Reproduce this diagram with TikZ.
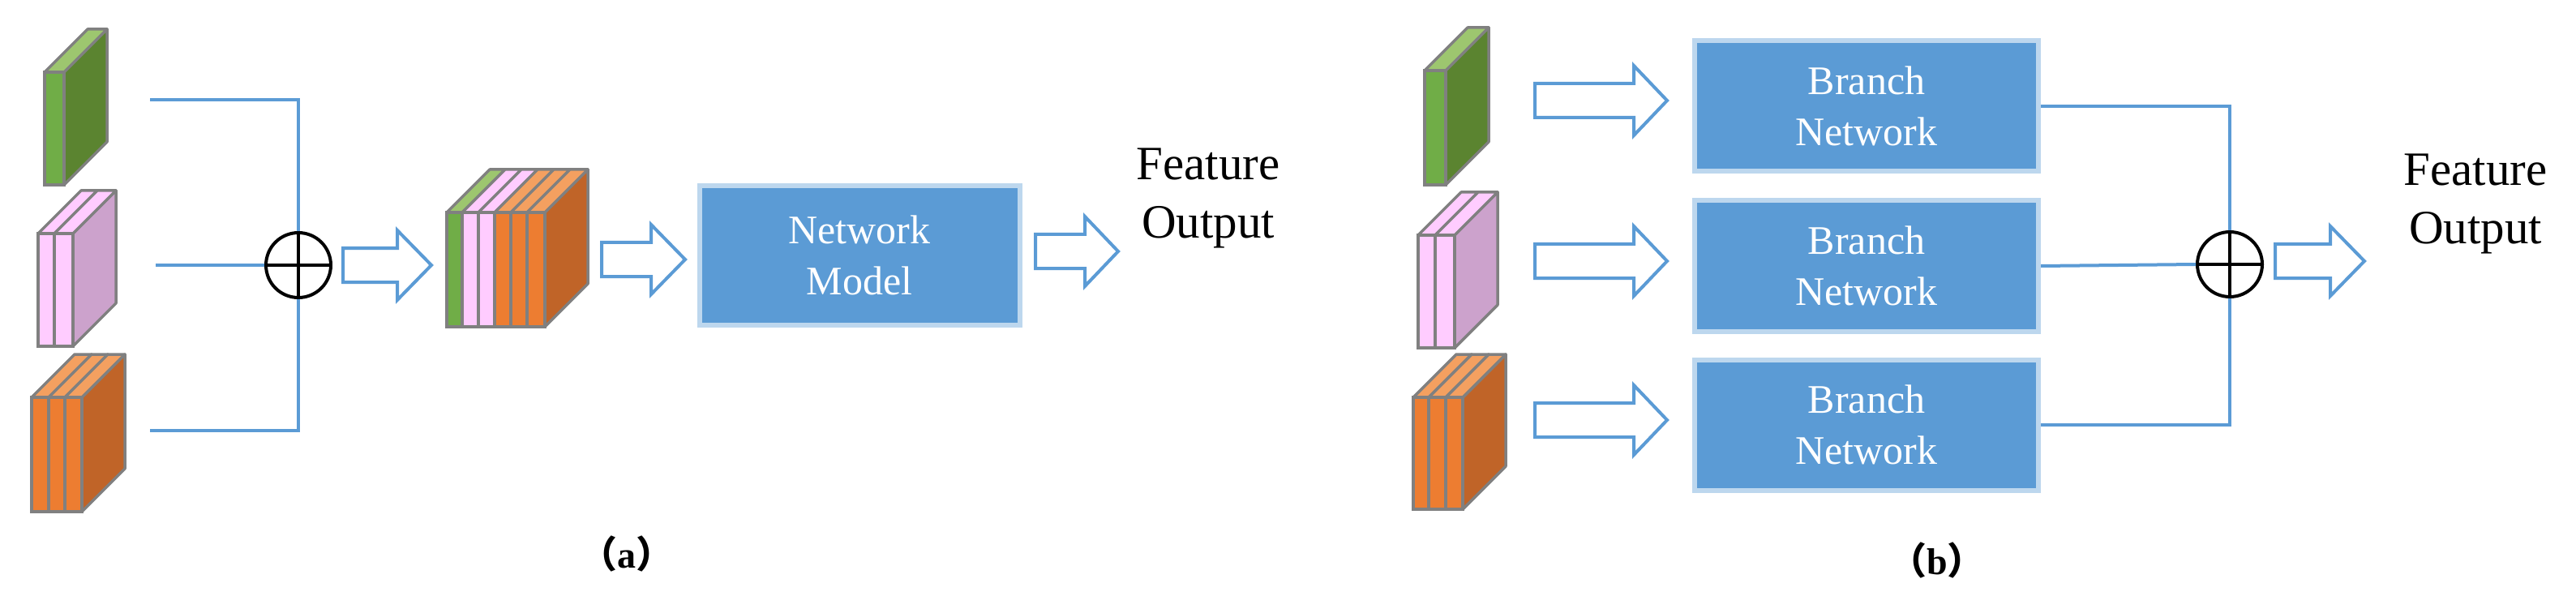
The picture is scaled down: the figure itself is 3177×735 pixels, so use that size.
\documentclass[tikz,border=0pt]{standalone}
\usepackage{fontspec}
\setmainfont{Liberation Serif}
\newfontfamily\cjkf{Noto Sans CJK SC}
\begin{document}
\definecolor{lblue}{HTML}{5B9BD5}
\definecolor{bbord}{HTML}{BDD7EE}
\definecolor{gfr}{HTML}{70AD47}\definecolor{gsd}{HTML}{5B8430}\definecolor{gtp}{HTML}{9DC66F}
\definecolor{pfr}{HTML}{FFCCFF}\definecolor{psd}{HTML}{CCA2CC}\definecolor{ptp}{HTML}{FFCCFF}
\definecolor{ofr}{HTML}{ED7D31}\definecolor{osd}{HTML}{C06428}\definecolor{otp}{HTML}{F4A060}
\definecolor{sgray}{HTML}{808080}
\newcommand\mystrip[6]{% xl xr ytop ybot front top
  \filldraw[fill=#6,draw=sgray,line width=3.5pt,line join=round] (#1,#3)--++(53,-53)--(#2+53,#3-53)--(#2,#3)--cycle;
  \filldraw[fill=#5,draw=sgray,line width=3.5pt] (#1,#3) rectangle (#2,#4);}
\newcommand\myside[4]{% xr ytop ybot color
  \filldraw[fill=#4,draw=sgray,line width=3.5pt,line join=round] (#1,#2)--++(53,-53)--(#1+53,#3-53)--(#1,#3)--cycle;}
\newcommand\myarrow[5]{% name x0 x1 xh yc  (body half 21, head half 43)
  \draw[lblue,line width=4pt,line join=miter,fill=white] (#2,#5-21)--(#4,#5-21)--(#4,#5-43)--(#3,#5)--(#4,#5+43)--(#4,#5+21)--(#2,#5+21)--cycle;
  \coordinate (#1) at (#3,#5);}
\begin{tikzpicture}[x=1pt,y=-1pt,
  box/.style={fill=lblue,draw=bbord,line width=6pt,text=white,font=\fontsize{50}{63}\selectfont,align=center,inner sep=0},
  osum/.style={circle,draw=black,line width=4pt,minimum size=80pt,inner sep=0},
  link/.style={lblue,line width=4pt},
  lab/.style={font=\fontsize{59}{72}\selectfont,align=center,inner sep=0}]
\useasboundingbox[fill=white] (0,0) rectangle (3177,735);
% ---------- (a) ----------
\myside{79}{89}{228}{gsd}\mystrip{55}{79}{89}{228}{gfr}{gtp}
\myside{90}{288}{427}{psd}\mystrip{47}{67}{288}{427}{pfr}{ptp}\mystrip{67}{90}{288}{427}{pfr}{ptp}
\myside{101}{490}{631}{osd}\mystrip{39}{60}{490}{631}{ofr}{otp}\mystrip{60}{80}{490}{631}{ofr}{otp}\mystrip{80}{101}{490}{631}{ofr}{otp}
\node[osum] (sa) at (368,327) {};
\draw[line width=4pt] (sa.north)--(sa.south) (sa.west)--(sa.east);
\coordinate (ta) at (185,123); \coordinate (ma) at (192,327); \coordinate (ba) at (185,531);
\draw[link] (ta) -| (sa.north);
\draw[link] (ma) -- (sa.west);
\draw[link] (ba) -| (sa.south);
\myarrow{a1}{423}{532}{490}{327}
\myside{672}{262}{403}{osd}
\mystrip{551}{570}{262}{403}{gfr}{gtp}
\mystrip{570}{590}{262}{403}{pfr}{ptp}\mystrip{590}{610}{262}{403}{pfr}{ptp}
\mystrip{610}{630}{262}{403}{ofr}{otp}\mystrip{630}{650}{262}{403}{ofr}{otp}\mystrip{650}{672}{262}{403}{ofr}{otp}
\myarrow{a2}{742}{845}{803}{320}
\node[box,minimum width=395pt,minimum height=171pt] (nm) at (1060,315) {Network\\Model};
\myarrow{a3}{1277}{1379}{1338}{310}
\node[lab,anchor=base] (fa) at (1490,294) {Feature\\Output};
\node[font=\fontsize{46}{50}\selectfont\bfseries,anchor=base] (la) at (773,700) {{\cjkf （}a{\cjkf ）}};
% ---------- (b) ----------
\myside{1783}{87}{228}{gsd}\mystrip{1757}{1783}{87}{228}{gfr}{gtp}
\myside{1794}{290}{429}{psd}\mystrip{1749}{1770}{290}{429}{pfr}{ptp}\mystrip{1770}{1794}{290}{429}{pfr}{ptp}
\myside{1804}{490}{628}{osd}\mystrip{1743}{1762}{490}{628}{ofr}{otp}\mystrip{1762}{1783}{490}{628}{ofr}{otp}\mystrip{1783}{1804}{490}{628}{ofr}{otp}
\myarrow{b1}{1893}{2056}{2015}{124}
\myarrow{b2}{1893}{2056}{2015}{322}
\myarrow{b3}{1893}{2056}{2015}{518}
\node[box,minimum width=424pt,minimum height=161pt] (n1) at (2302,131) {Branch\\Network};
\node[box,minimum width=424pt,minimum height=161pt] (n2) at (2302,328) {Branch\\Network};
\node[box,minimum width=424pt,minimum height=161pt] (n3) at (2302,524) {Branch\\Network};
\node[osum] (sb) at (2750,326) {};
\draw[line width=4pt] (sb.north)--(sb.south) (sb.west)--(sb.east);
\draw[link] (n1.east) -| (sb.north);
\draw[link] (n2.east) -- (sb.west);
\draw[link] (n3.east) -| (sb.south);
\myarrow{b4}{2806}{2916}{2874}{322}
\node[lab,anchor=base] (fb) at (3053,301) {Feature\\Output};
\node[font=\fontsize{46}{50}\selectfont\bfseries,anchor=base] (lb) at (2389,708) {{\cjkf （}b{\cjkf ）}};
\end{tikzpicture}
\end{document}
